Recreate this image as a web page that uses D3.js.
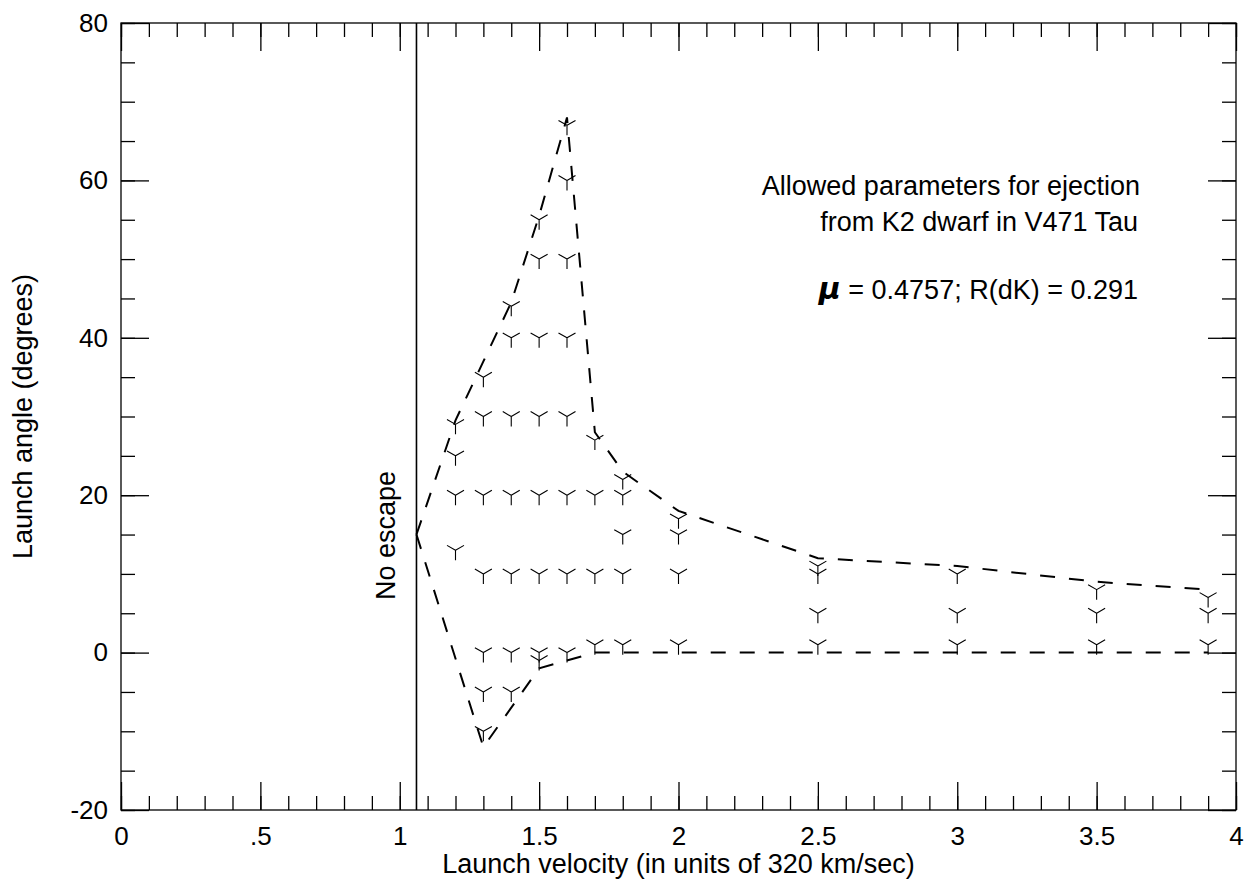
<!DOCTYPE html>
<meta charset="utf-8">
<style>
body { margin: 0; background: #fff; }
text { font-family: "Liberation Sans", Arial, sans-serif; font-size: 27px; fill: #000; }
.axis path { display: none; }
.axis line { stroke: #000; stroke-width: 1.3; }
</style>
<body>
<script src="https://d3js.org/d3.v7.min.js"></script>
<script>

width = 1247;
height = 879;
margin = ({top: 23, right: 11, bottom: 69, left: 121});

// sampled launch parameters, one column per velocity
velocities = [1.2, 1.3, 1.4, 1.5, 1.6, 1.7, 1.8, 2.0, 2.5, 3.0, 3.5, 3.9];
angles = [
  [29, 25, 20, 13],
  [35, 30, 20, 10, 0, -5, -10],
  [44, 40, 30, 20, 10, 0, -5],
  [55, 50, 40, 30, 20, 10, 0, -1],
  [67, 60, 50, 40, 30, 20, 10, 0],
  [27, 20, 10, 1],
  [22, 20, 15, 10, 1],
  [17, 15, 10, 1],
  [11, 10, 5, 1],
  [10, 5, 1],
  [8, 5, 1],
  [7, 5, 1]
];

// dashed envelope
upperV = [1.06, 1.2, 1.3, 1.4, 1.5, 1.6, 1.7, 1.8, 2.0, 2.5, 3.0, 3.5, 3.9];
upperA = [15, 29.5, 37, 44.5, 55.5, 68, 28, 23, 18, 12, 11, 9, 8];
lowerV = [1.06, 1.3, 1.5, 1.7, 3.9];
lowerA = [15, -12, -2, 0, 0];

escapeV = 1.06;

xMajor = [0, 0.5, 1, 1.5, 2, 2.5, 3, 3.5, 4];
xLabels = ["0", ".5", "1", "1.5", "2", "2.5", "3", "3.5", "4"];
yMajor = [-20, 0, 20, 40, 60, 80];
yLabels = ["-20", "0", "20", "40", "60", "80"];
xMinor = d3.range(0, 41).map(d => d / 10);
yMinor = d3.range(-20, 81, 5);

x = d3.scaleLinear([0, 4], [margin.left, width - margin.right]);
y = d3.scaleLinear([-20, 80], [height - margin.bottom, margin.top]);

var svg = d3.select("body").append("svg")
    .attr("width", width)
    .attr("height", height)

// ticks on all four sides, pointing inwards
function ticks(axis, values, size, labels, pad) {
  return axis.tickValues(values).tickSizeInner(-size).tickSizeOuter(0)
    .tickPadding(labels ? pad : 0)
    .tickFormat(labels ? (d, i) => labels[i] : () => "");
}

svg.append("g").attr("class", "axis").attr("transform", `translate(0,${y(-20)})`)
    .call(ticks(d3.axisBottom(x), xMinor, 14));
svg.append("g").attr("class", "axis").attr("transform", `translate(0,${y(-20)})`)
    .call(ticks(d3.axisBottom(x), xMajor, 28, xLabels, 17));
svg.append("g").attr("class", "axis").attr("transform", `translate(0,${y(80)})`)
    .call(ticks(d3.axisTop(x), xMinor, 14));
svg.append("g").attr("class", "axis").attr("transform", `translate(0,${y(80)})`)
    .call(ticks(d3.axisTop(x), xMajor, 28));
svg.append("g").attr("class", "axis").attr("transform", `translate(${x(0)},0)`)
    .call(ticks(d3.axisLeft(y), yMinor, 14));
svg.append("g").attr("class", "axis").attr("transform", `translate(${x(0)},0)`)
    .call(ticks(d3.axisLeft(y), yMajor, 28, yLabels, 13));
svg.append("g").attr("class", "axis").attr("transform", `translate(${x(4)},0)`)
    .call(ticks(d3.axisRight(y), yMinor, 14));
svg.append("g").attr("class", "axis").attr("transform", `translate(${x(4)},0)`)
    .call(ticks(d3.axisRight(y), yMajor, 28));

svg.selectAll(".axis text").style("font-size", "26px");

svg.append("rect")
    .attr("x", x(0)).attr("y", y(80))
    .attr("width", x(4) - x(0)).attr("height", y(-20) - y(80))
    .attr("fill", "none").attr("stroke", "#000").attr("stroke-width", 1.3)

// escape limit
svg.append("line")
    .attr("x1", x(escapeV)).attr("x2", x(escapeV))
    .attr("y1", y(-20)).attr("y2", y(80))
    .attr("stroke", "#000").attr("stroke-width", 1.6)

svg.append("text")
    .attr("transform", `translate(${x(escapeV) - 21},${y(15) + 1}) rotate(-90)`)
    .attr("text-anchor", "middle")
    .text("No escape")

line = d3.line().x(d => x(d[0])).y(d => y(d[1]));

svg.append("path")
    .attr("d", line(upperV.map((v, i) => [v, upperA[i]])))
    .attr("fill", "none").attr("stroke", "#000").attr("stroke-width", 2)
    .attr("stroke-dasharray", "15,14")
svg.append("path")
    .attr("d", line(lowerV.map((v, i) => [v, lowerA[i]])))
    .attr("fill", "none").attr("stroke", "#000").attr("stroke-width", 2)
    .attr("stroke-dasharray", "15,14")

points = velocities.flatMap((v, i) => angles[i].map(a => ({v: v, a: a})));

svg.append("g").selectAll("path")
    .data(points)
    .join("path")
      .attr("transform", d => `translate(${x(d.v)},${y(d.a)})`)
      .attr("d", "M0,0V10M0,0L-8.5,-4.9M0,0L8.5,-4.9")
      .attr("fill", "none").attr("stroke", "#000").attr("stroke-width", 1.1)

// annotation
note = svg.append("g").attr("text-anchor", "end")
note.append("text").attr("x", 1140).attr("y", 195).text("Allowed parameters for ejection")
note.append("text").attr("x", 1138).attr("y", 231).text("from K2 dwarf in V471 Tau")
mu = note.append("text").attr("x", 1138).attr("y", 299)
mu.append("tspan")
    .style("font-family", "'DejaVu Sans', sans-serif")
    .style("font-weight", "bold").style("font-style", "italic").style("font-size", "30px")
    .text("\u03bc")
mu.append("tspan").text(" = 0.4757; R(dK) = 0.291")

// axis titles
svg.append("text")
    .attr("x", (x(0) + x(4)) / 2).attr("y", 873)
    .attr("text-anchor", "middle")
    .text("Launch velocity (in units of 320 km/sec)")

svg.append("text")
    .attr("transform", `translate(32,${(y(-20) + y(80)) / 2}) rotate(-90)`)
    .attr("text-anchor", "middle")
    .text("Launch angle (degrees)")

</script>
